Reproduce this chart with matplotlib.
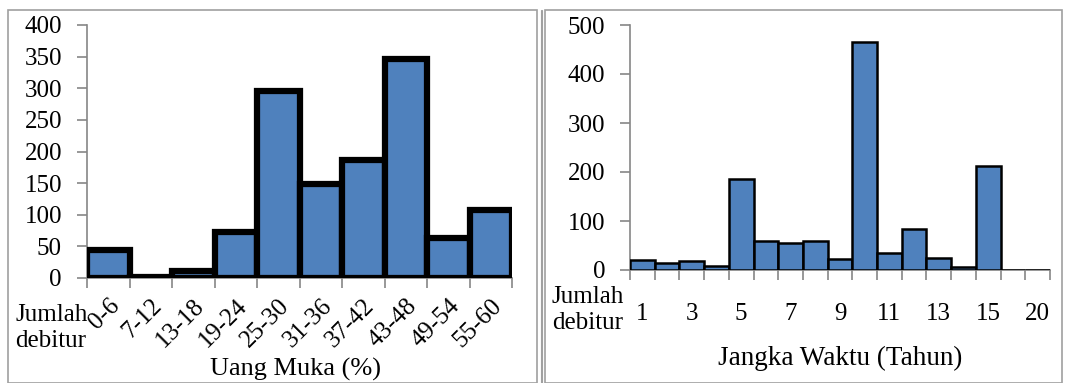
import matplotlib.pyplot as plt
from matplotlib.patches import Rectangle
import numpy as np

plt.rcParams['font.family'] = ['Liberation Serif', 'DejaVu Serif']

# left chart: down payment
dp_labels = ['0-6', '7-12', '13-18', '19-24', '25-30', '31-36', '37-42', '43-48', '49-54', '55-60']
dp_counts = [44, 2, 11, 72, 295, 148, 186, 347, 64, 108]

# right chart: term in years
term_labels = ['1', '2', '3', '4', '5', '6', '7', '8', '9', '10', '11', '12', '13', '14', '15', '18', '20']
term_counts = [20, 14, 19, 8, 185, 60, 55, 59, 22, 465, 35, 83, 24, 7, 213, 1, 1]

blue = '#4F81BD'
grey = '#868686'
fs = 18

fig = plt.figure(figsize=(10.66, 3.83), dpi=100)

# panel frames
fig.patches.append(Rectangle((8/1066, 0), 529/1066, 373/383, transform=fig.transFigure,
                             fill=False, edgecolor='#A0A0A0', lw=1.2))
fig.patches.append(Rectangle((545/1066, 0), 517/1066, 373/383, transform=fig.transFigure,
                             fill=False, edgecolor='#A0A0A0', lw=1.2))
fig.patches.append(Rectangle((541/1066, 0), 1/1066, 373/383, transform=fig.transFigure,
                             fill=False, edgecolor='#A0A0A0', lw=0.8))


def style_axes(ax, n):
    for s in ['top', 'right']:
        ax.spines[s].set_visible(False)
    for s in ['left', 'bottom']:
        ax.spines[s].set_color(grey)
        ax.spines[s].set_linewidth(1.2)
    ax.set_xlim(-0.5, n - 0.5)
    ax.set_xticks(np.arange(n))
    ax.set_xticks(np.arange(n + 1) - 0.5, minor=True)
    ax.tick_params(axis='x', which='major', length=0)
    ax.tick_params(axis='x', which='minor', length=7, color=grey, width=1.2)
    ax.tick_params(axis='y', length=7, color=grey, width=1.2, labelsize=fs, pad=11)


# left
ax1 = fig.add_axes([87/1066, 1 - 278/383, (512 - 87)/1066, (278 - 25)/383])
x1 = np.arange(len(dp_labels))
ax1.bar(x1, dp_counts, width=1.0, color=blue, edgecolor='black', linewidth=4.5, zorder=3)
style_axes(ax1, len(dp_labels))
ax1.set_ylim(0, 400)
ax1.set_yticks(np.arange(0, 401, 50))
ax1.set_xticklabels(dp_labels, rotation=45, ha='right', rotation_mode='anchor', fontsize=fs)
ax1.tick_params(axis='x', which='major', pad=12)
ax1.set_xlabel('Uang Muka (%)', fontsize=19)
ax1.xaxis.set_label_coords(0.49, -0.315)
fig.text(15/1066, 1 - 328/383, 'Jumlah\ndebitur', fontsize=fs, va='center', ha='left',
         linespacing=1.2)

# right
ax2 = fig.add_axes([630/1066, 1 - 270/383, (1050 - 630)/1066, (270 - 25)/383])
x2 = np.arange(len(term_labels))
ax2.bar(x2, term_counts, width=1.0, color=blue, edgecolor='black', linewidth=1.8, zorder=3)
style_axes(ax2, len(term_labels))
ax2.set_ylim(0, 500)
ax2.set_yticks(np.arange(0, 501, 100))
shown = [t if i % 2 == 0 else '' for i, t in enumerate(term_labels)]
ax2.set_xticklabels(shown, fontsize=fs)
ax2.tick_params(axis='x', which='major', pad=24)
ax2.set_xlabel('Jangka Waktu (Tahun)', fontsize=19.5)
ax2.xaxis.set_label_coords(0.5, -0.31)
fig.text(552/1066, 1 - 310/383, 'Jumlah\ndebitur', fontsize=fs, va='center', ha='left',
         linespacing=1.2)

fig.savefig('out.png', dpi=100)
